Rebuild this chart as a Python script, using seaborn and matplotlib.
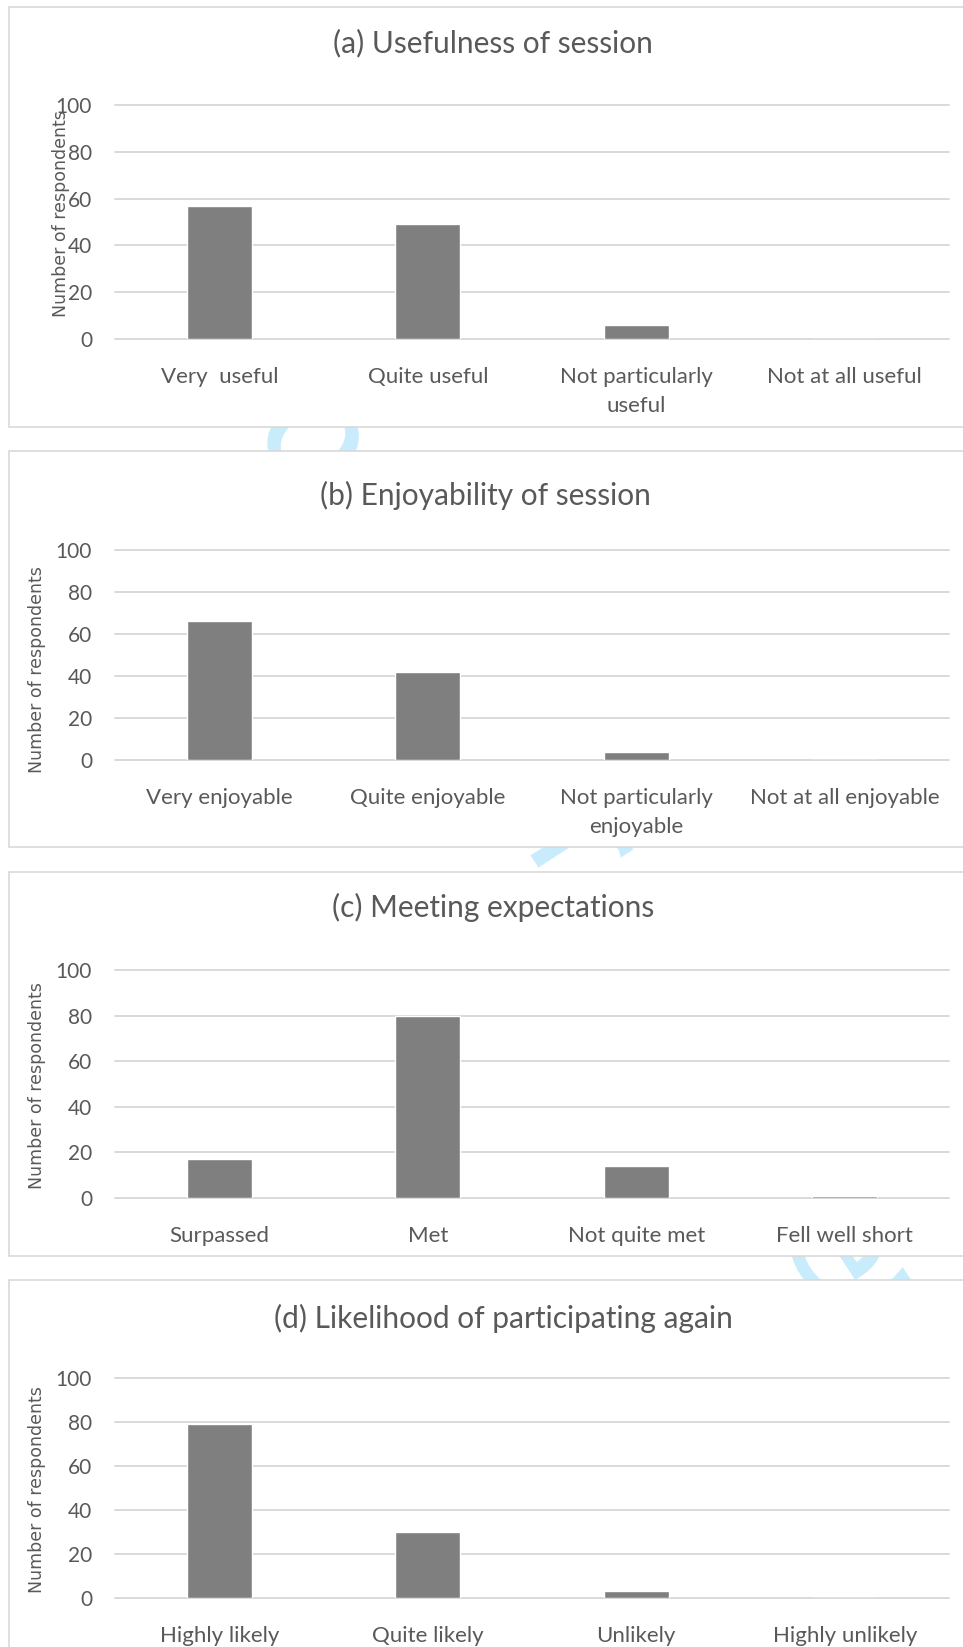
import numpy as np
import pandas as pd
import matplotlib
matplotlib.use("Agg")
import matplotlib.pyplot as plt
from matplotlib.patches import Rectangle
import seaborn as sns

# ---- survey responses -------------------------------------------------------
usefulness_labels = ["Very  useful", "Quite useful", "Not particularly\nuseful", "Not at all useful"]
usefulness_counts = [57, 49, 6, 0]

enjoyability_labels = ["Very enjoyable", "Quite enjoyable", "Not particularly\nenjoyable", "Not at all enjoyable"]
enjoyability_counts = [66, 42, 4, 0]

expectation_labels = ["Surpassed", "Met", "Not quite met", "Fell well short"]
expectation_counts = [17, 80, 14, 1]

again_labels = ["Highly likely", "Quite likely", "Unlikely", "Highly unlikely"]
again_counts = [79, 30, 3, 0]

panel_titles = [
    "(a) Usefulness of session",
    "(b) Enjoyability of session",
    "(c) Meeting expectations",
    "(d) Likelihood of participating again",
]
y_ticks = [0, 20, 40, 60, 80, 100]
y_label = "Number of respondents"

# ---- style ------------------------------------------------------------------
sns.set_theme(style="white")
plt.rcParams["font.family"] = ["Lato", "DejaVu Sans"]

W, H = 963, 1647
BAR = "#7f7f7f"
GRID = "#d9d9d9"
TEXT = "#595959"

fig = plt.figure(figsize=(W / 100, H / 100), dpi=100)
fig.patch.set_facecolor("white")


def fx(x):
    return x / W


def fy(y):
    return 1 - y / H


# faint document watermark sitting behind the chart panels
fig.text(fx(586), fy(860), "For Peer Review", rotation=-57, fontsize=115,
         color="#c8ecfc", ha="center", va="center", family="DejaVu Sans",
         zorder=-5)

# per-panel layout in pixels: chart box, plot area, title centre, y-label position
panels = [
    dict(labels=usefulness_labels, counts=usefulness_counts,
         box=(9, 7, 977, 427), plot=(115, 105, 949, 339),
         title_xy=(493, 43), ylab=(-0.065, 0.534)),
    dict(labels=enjoyability_labels, counts=enjoyability_counts,
         box=(9, 451, 977, 847), plot=(115, 550, 949, 760),
         title_xy=(485, 495), ylab=(-0.0935, 0.43)),
    dict(labels=expectation_labels, counts=expectation_counts,
         box=(9, 872, 977, 1256), plot=(115, 970, 949, 1198),
         title_xy=(493, 907), ylab=(-0.0935, 0.493)),
    dict(labels=again_labels, counts=again_counts,
         box=(9, 1280, 977, 1720), plot=(115, 1378, 949, 1598),
         title_xy=(503, 1318), ylab=(-0.0935, 0.492)),
]

for title, p in zip(panel_titles, panels):
    bx0, by0, bx1, by1 = p["box"]
    fig.add_artist(Rectangle((fx(bx0), fy(by1)), fx(bx1 - bx0), (by1 - by0) / H,
                             transform=fig.transFigure, facecolor="white",
                             edgecolor=GRID, linewidth=1.2, zorder=-1))

    px0, py0, px1, py1 = p["plot"]
    ax = fig.add_axes([fx(px0), fy(py1), fx(px1 - px0), (py1 - py0) / H])
    ax.patch.set_alpha(0)

    df = pd.DataFrame({"response": p["labels"], "count": p["counts"]})
    sns.barplot(data=df, x="response", y="count", order=p["labels"], ax=ax,
                color=BAR, saturation=1, width=0.31, zorder=3)

    for t in y_ticks:
        ax.axhline(t, color=GRID, linewidth=1.4, zorder=1, clip_on=False)

    ax.set_ylim(0, 100)
    ax.set_xlim(-0.5, 3.5)
    ax.set_yticks(y_ticks)
    ax.set_xlabel("")
    ax.set_ylabel("")
    for s in ax.spines.values():
        s.set_visible(False)
    ax.tick_params(axis="y", length=0, pad=16.5, labelsize=15, labelcolor=TEXT)
    ax.tick_params(axis="x", length=0, pad=20.5, labelsize=16, labelcolor=TEXT)
    for lbl in ax.get_xticklabels():
        lbl.set_linespacing(1.55)

    ax.text(p["ylab"][0], p["ylab"][1], y_label, transform=ax.transAxes,
            rotation=90, ha="center", va="center", fontsize=12.5,
            family="DejaVu Sans", color=TEXT)

    fig.text(fx(p["title_xy"][0]), fy(p["title_xy"][1]), title,
             ha="center", va="center", fontsize=21.5, color=TEXT)

fig.savefig("out.png", dpi=100, facecolor="white")
